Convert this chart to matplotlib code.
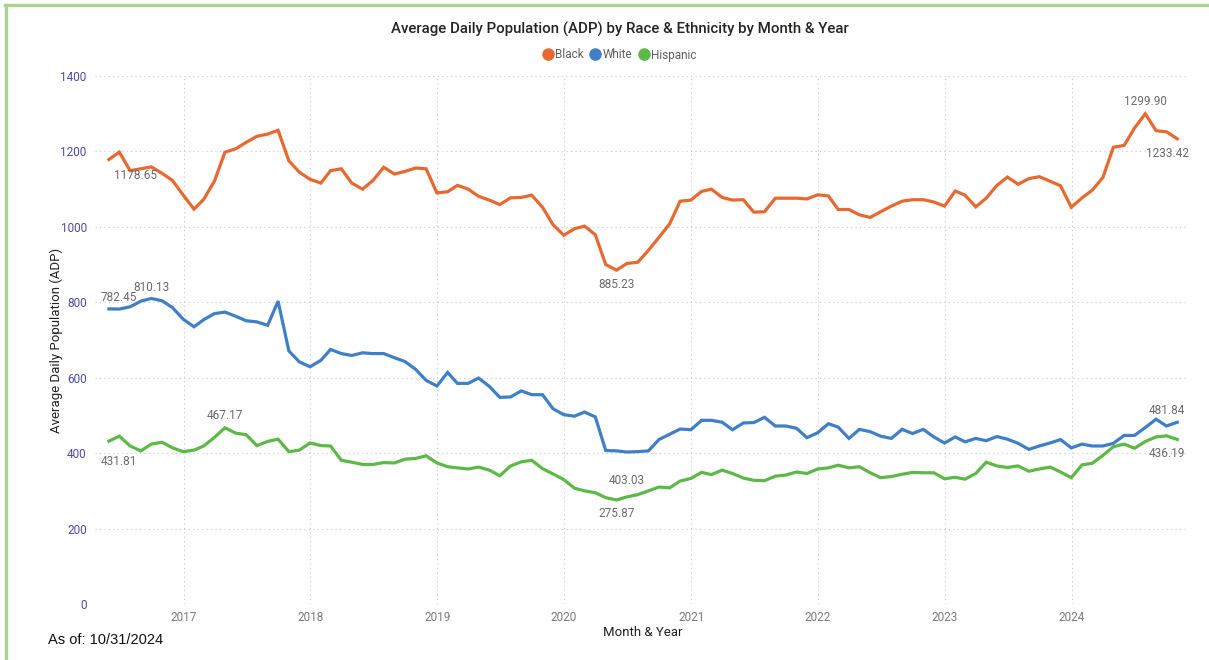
import matplotlib
matplotlib.use("Agg")
import matplotlib.pyplot as plt
from matplotlib.lines import Line2D
import numpy as np
import pandas as pd

# monthly ADP, May 2016 .. Oct 2024 (month-end dates)
months = pd.date_range("2016-05-31", periods=102, freq="ME")

black = [1178.65, 1198, 1149, 1154, 1159, 1142, 1123, 1084,
         1047, 1073, 1122, 1198, 1207, 1224, 1240, 1246, 1256, 1175, 1145, 1126,
         1116, 1149, 1154, 1116, 1100, 1123, 1158, 1140, 1147, 1156, 1154, 1090,
         1093, 1110, 1100, 1081, 1071, 1059, 1077, 1078, 1084, 1052, 1006, 978,
         995, 1002, 979, 900, 885.23, 903, 906, 938, 972, 1008, 1068, 1071,
         1094, 1100, 1078, 1071, 1072, 1039, 1040, 1076, 1076, 1076, 1074, 1085,
         1082, 1046, 1046, 1032, 1025, 1040, 1055, 1068, 1072, 1072, 1066, 1055,
         1095, 1084, 1053, 1076, 1110, 1132, 1113, 1128, 1133, 1121, 1109, 1052,
         1077, 1097, 1131, 1211, 1216, 1262, 1299.90, 1255, 1252, 1233.42]

white = [782.45, 782, 788, 803, 810.13, 804, 786, 755,
         735, 754, 770, 774, 763, 751, 748, 739, 803, 671, 642, 629,
         646, 675, 664, 659, 666, 664, 664, 653, 643, 622, 593, 578,
         614, 585, 585, 599, 577, 548, 549, 565, 555, 555, 518, 502,
         498, 509, 496, 407, 406, 403.03, 404, 406, 436, 450, 464, 462,
         487, 487, 482, 462, 480, 481, 495, 472, 472, 466, 441, 454,
         478, 469, 439, 463, 457, 445, 439, 463, 452, 463, 443, 427,
         443, 430, 439, 433, 444, 437, 426, 410, 419, 427, 436, 414,
         424, 419, 419, 426, 447, 447, 468, 490, 472, 481.84]

hispanic = [431.81, 445, 419, 406, 424, 429, 414, 404,
            408, 419, 442, 467.17, 453, 449, 420, 431, 437, 404, 408, 427,
            420, 419, 381, 376, 370, 370, 375, 374, 384, 386, 393, 374,
            364, 361, 358, 363, 355, 340, 366, 377, 381, 359, 345, 330,
            307, 300, 295, 282, 275.87, 284, 290, 300, 310, 308, 326, 333,
            349, 343, 355, 346, 334, 328, 327, 339, 342, 350, 346, 358,
            361, 368, 361, 364, 348, 335, 338, 344, 349, 348, 348, 332,
            336, 331, 346, 376, 366, 362, 366, 352, 358, 363, 350, 335,
            369, 373, 394, 417, 424, 413, 431, 443, 446, 436.19]

names = ["Black", "White", "Hispanic"]
colors = ["#E8692F", "#3F7FC8", "#5CB947"]

# label offsets (px) for first / max / min / last
offsets = {
    "Black": [(27, -16), (0, 12), (0, -14), (-10, -15)],
    "White": [(10, 11), (0, 11), (0, -28), (-10, 12)],
    "Hispanic": [(10, -20), (0, 12), (0, -14), (-10, -14)],
}

plt.rcParams["font.family"] = ["Roboto", "DejaVu Sans"]

fig = plt.figure(figsize=(12.09, 6.6), dpi=100)
ax = fig.add_axes([95 / 1209, 56 / 660, 1092 / 1209, 528 / 660])

for name, vals, col in zip(names, [black, white, hispanic], colors):
    vals = np.array(vals)
    ax.plot(months, vals, color=col, lw=2.3, solid_joinstyle="miter")
    # label first value, max, min and last value
    idx = [0, int(np.argmax(vals)), int(np.argmin(vals)), len(vals) - 1]
    seen = set()
    for i, off in zip(idx, offsets[name]):
        if i in seen:
            continue
        seen.add(i)
        ax.annotate(f"{vals[i]:.2f}", (months[i], vals[i]), xytext=off,
                    textcoords="offset pixels", ha="center", va="center",
                    fontsize=8.5, color="#6B6B6B")

ax.set_ylim(0, 1400)
ax.set_xlim(pd.Timestamp("2016-04-21"), pd.Timestamp("2024-11-28"))
ax.set_yticks(range(0, 1401, 200))
years = [pd.Timestamp(f"{y}-01-01") for y in range(2017, 2025)]
ax.set_xticks(years)
ax.set_xticklabels([str(y) for y in range(2017, 2025)])
ax.tick_params(axis="y", length=0, pad=6, labelsize=8.5, labelcolor="#4B4BA6")
ax.tick_params(axis="x", length=0, pad=5, labelsize=8.5, labelcolor="#7A7A7A")
ax.grid(True, color="#C8C8C8", lw=0.8, linestyle=(0, (1, 3)))
for s in ax.spines.values():
    s.set_visible(False)

fig.text(620 / 1209, 1 - 29 / 660, "Average Daily Population (ADP) by Race & Ethnicity by Month & Year",
         ha="center", va="center", fontsize=10.8, color="#252423", fontweight="medium")
fig.text(56 / 1209, 1 - 340 / 660, "Average Daily Population (ADP)", rotation=90,
         ha="center", va="center", fontsize=9.5, color="#222222")
fig.text(643 / 1209, 1 - 632 / 660, "Month & Year", ha="center", va="center",
         fontsize=9.5, color="#222222")
fig.text(48 / 1209, 1 - 640 / 660, "As of: 10/31/2024", ha="left", va="center",
         fontsize=10.5, color="#111111", family=["Liberation Sans", "DejaVu Sans"])

handles = [Line2D([], [], ls="none", marker="o", ms=8, color=c) for c in colors]
fig.legend(handles, names, loc="center", bbox_to_anchor=(619 / 1209, 1 - 55 / 660),
           ncol=3, frameon=False, fontsize=8.5, labelcolor="#605E5C",
           handletextpad=0.1, columnspacing=0.5, handlelength=1.0)

# green frame on top and left
fig.add_artist(Line2D([5 / 1209, 1], [1 - 5 / 660, 1 - 5 / 660], color="#A9D48F", lw=2.4))
fig.add_artist(Line2D([6 / 1209, 6 / 1209], [0, 1 - 5 / 660], color="#A9D48F", lw=2.4))

fig.savefig("out.png", dpi=100)
